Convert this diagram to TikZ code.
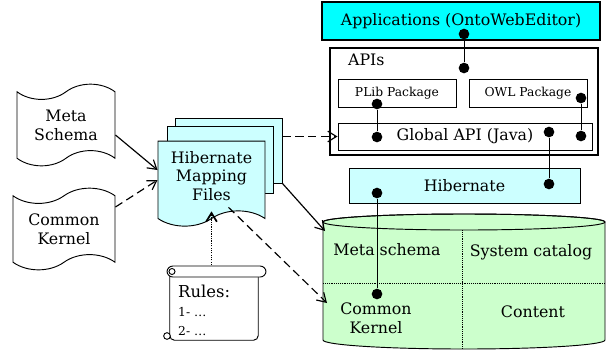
\documentclass[tikz,border=0pt]{standalone}
\usepackage{fontspec}
\setmainfont{DejaVu Serif}
\usetikzlibrary{shapes.symbols,arrows.meta,calc}

\definecolor{appcyan}{RGB}{0,255,255}
\definecolor{palecyan}{RGB}{204,255,255}
\definecolor{palegreen}{RGB}{204,255,204}

\tikzset{
  box/.style={draw,line width=0.8pt,inner sep=0pt},
  bigbox/.style={draw,line width=2pt,inner sep=0pt},
  dot/.style={circle,fill,inner sep=0pt,minimum size=3.2mm},
  paper/.style={tape,draw,line width=0.8pt,inner sep=0pt,align=center,tape bend height=13pt},
  flow/.style={-{Straight Barb[length=2.6mm,width=3.2mm]},line width=1pt},
  gap/.style={dash pattern=on 7pt off 4pt},
  small/.style={font=\fontsize{10.5}{12}\selectfont},
}

\begin{document}
\begin{tikzpicture}[x=0.03cm,y=-0.03cm, every node/.style={font=\fontsize{13.5}{16}\selectfont}]
  \useasboundingbox (0,0) rectangle (611,351);

  % database cylinder
  \draw[fill=palegreen,line width=0.8pt] (323,222) -- (323,340)
    arc[start angle=180,end angle=360,x radius=4.23cm,y radius=0.27cm] -- (605,222)
    arc[start angle=0,end angle=180,x radius=4.23cm,y radius=0.24cm] -- cycle;
  \draw[line width=0.8pt] (464,222) ellipse [x radius=4.23cm,y radius=0.24cm];
  \draw[densely dotted,line width=0.6pt] (323,283) -- (605,283);
  \draw[densely dotted,line width=0.6pt] (462,230) -- (462,349);
  \node (metaschema) at (387,250) {Meta schema};
  \node (syscat) at (531,252) {System catalog};
  \node[align=center] (cknl) at (376,318) {Common\\Kernel};
  \node (content) at (533,312) {Content};
  \coordinate (dbtop) at (325,231);
  \coordinate (dbmid) at (327,303);

  % layers
  \node[bigbox,fill=appcyan,minimum width=8.34cm,minimum height=1.14cm] (apps) at (461,21) {Applications (OntoWebEditor)};
  \node[bigbox,minimum width=8.04cm,minimum height=3.21cm] (apis) at (464,101.5) {};
  \node[anchor=west] (apilbl) at (344,60) {APIs};
  \node[box,small,minimum width=3.54cm,minimum height=0.84cm] (plib) at (397,93) {PLib Package};
  \node[box,small,minimum width=3.54cm,minimum height=0.84cm] (owl) at (528,93) {OWL Package};
  \node[box,minimum width=7.62cm,minimum height=0.81cm] (global) at (465,136.5) {Global API (Java)};
  \node[box,fill=palecyan,minimum width=6.93cm,minimum height=1.05cm] (hib) at (464.5,185.5) {Hibernate};

  % links between layers
  \node[dot] (appdot) at (464,34) {};
  \node[dot] (apidot) at (464,68) {};
  \draw (appdot) -- (apidot);
  \node[dot] (plibdot) at (377,104) {};
  \node[dot] (glbdot1) at (377,137) {};
  \draw (plibdot) -- (glbdot1);
  \node[dot] (owldot) at (581,98) {};
  \node[dot] (glbdot2) at (581,136) {};
  \draw (owldot) -- (glbdot2);
  \node[dot] (glbdot3) at (549,132) {};
  \node[dot] (hibdot1) at (549,184) {};
  \draw (glbdot3) -- (hibdot1);
  \node[dot] (hibdot2) at (377,193) {};
  \node[dot] (ckdot) at (377,294) {};
  \draw (hibdot2) -- (ckdot);

  % input documents
  \node[paper,minimum width=2.94cm,minimum height=2.45cm] (meta) at (66,125) {Meta\\Schema};
  \node[paper,minimum width=3.06cm,minimum height=2.45cm] (kernel) at (64,229) {Common\\Kernel};

  % mapping files, stacked
  \node[box,fill=palecyan,minimum width=3.21cm,minimum height=1.95cm] (mapback) at (228.5,150.5) {};
  \node[box,fill=palecyan,minimum width=3.18cm,minimum height=2.01cm] (mapmid) at (220,159.5) {};
  \node[paper,fill=palecyan,tape bend top=none,minimum width=3.21cm,minimum height=2.55cm] (map) at (211.5,176) {Hibernate\\Mapping\\Files};

  % flows
  \draw[flow] ($(meta.east)+(0,10)$) -- ($(map.west)+(0,-6)$);
  \draw[flow,gap] ($(kernel.east)+(0,-22)$) -- ($(map.west)+(0,4)$);
  \draw[flow,gap] (mapback.east |- global.west) -- (global.west);
  \draw[flow] (mapback.south east) -- (dbtop);
  \draw[flow,gap] ($(map.south)+(17,-4)$) -- (dbmid);

  % rules scroll
  \node[minimum width=2.64cm,minimum height=2.1cm,inner sep=0pt] (rules) at (214,305) {};
  \draw[flow,densely dotted,line width=1.5pt] (rules.north -| map.south) -- (map.south);
  \draw[line width=0.8pt,fill=white,rounded corners=4pt] (rules.north west) -- (rules.south west) -- (rules.south east) -- (rules.north east);
  \draw[line width=0.8pt,fill=white,rounded corners=5pt] (167,266) rectangle (266,277);
  \draw[line width=0.8pt] (172,271.5) circle (0.09cm);
  \draw[line width=0.8pt,fill=white] (167,336) circle (0.1cm);
  \node[anchor=north west,align=left,inner sep=0pt] (rulestext) at (178,285)
    {\fontsize{14}{16}\selectfont Rules:\\{\fontsize{10.5}{14}\selectfont 1- \ldots}\\{\fontsize{10.5}{13}\selectfont 2- \ldots}};
\end{tikzpicture}
\end{document}
